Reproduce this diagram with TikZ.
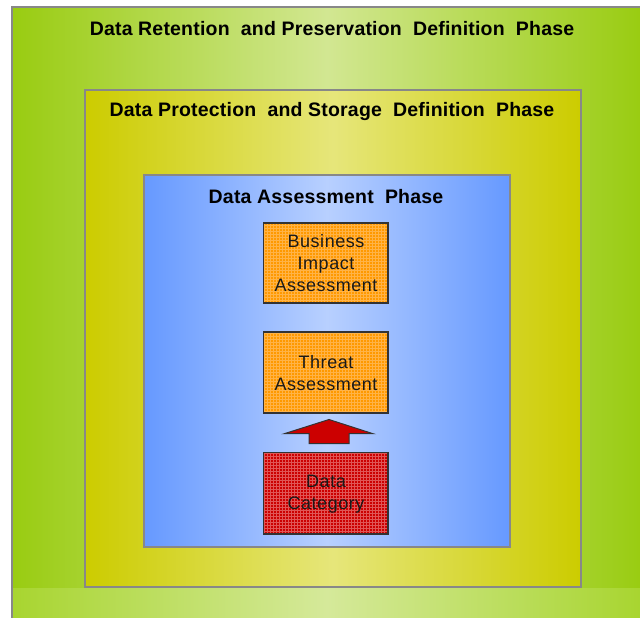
\documentclass[tikz,border=0pt]{standalone}
\usepackage{fontspec}
\setmainfont{Liberation Sans}
\usetikzlibrary{patterns}
\definecolor{gEdge}{HTML}{99CC11}
\definecolor{gMid}{HTML}{D2E792}
\definecolor{sEdge}{HTML}{A8D530}
\definecolor{sMid}{HTML}{D5E99A}
\definecolor{yEdge}{HTML}{CCCC00}
\definecolor{yMid}{HTML}{E6E67A}
\definecolor{bEdge}{HTML}{6699FF}
\definecolor{bMid}{HTML}{B8D0FF}
\definecolor{frame}{HTML}{888888}
\definecolor{orangeF}{HTML}{FF9900}
\definecolor{orangeP}{HTML}{FFB347}
\definecolor{redF}{HTML}{CC0000}
\definecolor{redP}{HTML}{E05555}
\tikzset{
  phase/.style={draw=frame, line width=2pt},
  phasetitle/.style={font=\bfseries\addfontfeature{LetterSpace=1}\fontsize{19.5}{21}\selectfont, text=black, inner sep=0pt},
  boxbase/.style={draw=black!80, line width=1.2pt},
  boxtext/.style={font=\addfontfeature{LetterSpace=3}\fontsize{18}{22}\selectfont, align=center, text=black!90, inner sep=0pt}
}
\begin{document}
\begin{tikzpicture}[x=1pt,y=-1pt]
\useasboundingbox (0,0) rectangle (640,618);
\fill[white] (0,0) rectangle (640,618);
\begin{scope}
\clip (0,0) rectangle (640,618);
% outer green phase
\path[phase, left color=gEdge, right color=gEdge, middle color=gMid] (12,7) rectangle (642,640);
\shade[left color=sEdge, right color=sEdge, middle color=sMid] (13,588) rectangle (641,618);
\draw[frame, line width=2pt] (12,587) -- (12,618);
\end{scope}
% yellow phase
\path[phase, left color=yEdge, right color=yEdge, middle color=yMid] (85,90) rectangle (581,587);
% blue phase
\path[phase, left color=bEdge, right color=bEdge, middle color=bMid] (144,175) rectangle (510,547);
% titles
\node[phasetitle] (t1) at (332,29) {Data Retention\ \ and Preservation\ \ Definition\ \ Phase};
\node[phasetitle] (t2) at (332,112) {Data Protection\ \ and Storage\ \ Definition\ \ Phase};
\node[phasetitle] (t3) at (326,197) {Data Assessment\ \ Phase};
% boxes
\fill[orangeF] (263.5,223) rectangle (388,303);
\fill[pattern=grid, pattern color=orangeP] (263.5,223) rectangle (388,303);
\draw[boxbase] (263.5,223) rectangle (388,303);
\node[boxtext] (bia) at (326,263) {Business\\Impact\\Assessment};
\fill[orangeF] (263.5,332) rectangle (388,413);
\fill[pattern=grid, pattern color=orangeP] (263.5,332) rectangle (388,413);
\draw[boxbase] (263.5,332) rectangle (388,413);
\node[boxtext] (ta) at (326,373) {Threat\\Assessment};
\fill[redF] (263.5,452.5) rectangle (388,534);
\fill[pattern=grid, pattern color=redP] (263.5,452.5) rectangle (388,534);
\draw[boxbase] (263.5,452.5) rectangle (388,534);
\node[boxtext] (dc) at (326,494) {Data\\Category};
% arrow
\draw[fill=redF, draw=black!80, line width=1pt, line join=miter]
  (329,419.5) -- (373,433.7) -- (349,433.7) -- (349,443.7) -- (309,443.7) -- (309,433.7) -- (284.3,433.7) -- cycle;
\end{tikzpicture}
\end{document}
